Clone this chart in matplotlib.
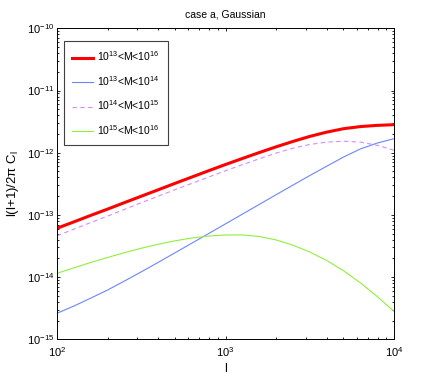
import numpy as np
import matplotlib
matplotlib.use('Agg')
import matplotlib.pyplot as plt
from matplotlib.ticker import NullFormatter, LogLocator

# multipole l
ell = [100, 126, 158, 200, 251, 316, 398, 501, 631, 794, 1000,
       1259, 1585, 1995, 2512, 3162, 3981, 5012, 6310, 7943, 10000]

# l(l+1)/2pi C_l for each mass bin
cl_all = [6.10e-14, 7.73e-14, 9.79e-14, 1.242e-13, 1.574e-13, 1.995e-13, 2.53e-13,
          3.21e-13, 4.06e-13, 5.13e-13, 6.46e-13, 8.07e-13, 1.005e-12, 1.242e-12,
          1.517e-12, 1.828e-12, 2.14e-12, 2.43e-12, 2.63e-12, 2.75e-12, 2.82e-12]
cl_13_14 = [2.62e-15, 3.43e-15, 4.57e-15, 6.22e-15, 8.63e-15, 1.213e-14, 1.722e-14,
            2.455e-14, 3.51e-14, 5.01e-14, 7.18e-14, 1.028e-13, 1.472e-13, 2.11e-13,
            3.01e-13, 4.29e-13, 6.05e-13, 8.51e-13, 1.148e-12, 1.429e-12, 1.679e-12]
cl_14_15 = [4.62e-14, 5.90e-14, 7.52e-14, 9.59e-14, 1.225e-13, 1.567e-13, 1.995e-13,
            2.54e-13, 3.21e-13, 4.06e-13, 5.13e-13, 6.41e-13, 7.98e-13, 9.86e-13,
            1.178e-12, 1.355e-12, 1.479e-12, 1.531e-12, 1.479e-12, 1.318e-12, 1.096e-12]
cl_15_16 = [1.151e-14, 1.409e-14, 1.714e-14, 2.07e-14, 2.47e-14, 2.91e-14, 3.37e-14,
            3.83e-14, 4.25e-14, 4.57e-14, 4.75e-14, 4.76e-14, 4.50e-14, 3.96e-14,
            3.26e-14, 2.53e-14, 1.854e-14, 1.268e-14, 8.09e-15, 4.88e-15, 2.81e-15]

labels = [r'$10^{13}$<M<$10^{16}$', r'$10^{13}$<M<$10^{14}$',
          r'$10^{14}$<M<$10^{15}$', r'$10^{15}$<M<$10^{16}$']

xticks = [1e2, 1e3, 1e4]
yticks = [1e-15, 1e-14, 1e-13, 1e-12, 1e-11, 1e-10]

plt.rcParams['font.family'] = ['Liberation Sans', 'DejaVu Sans']
plt.rcParams['mathtext.fontset'] = 'custom'
plt.rcParams['mathtext.rm'] = 'Liberation Sans'
plt.rcParams['mathtext.it'] = 'Liberation Sans'
plt.rcParams['mathtext.default'] = 'regular'

fig = plt.figure(figsize=(4.36, 3.82), dpi=100)
ax = fig.add_axes([57/436, 1-339.3/382, 337/436, 311/382])

ax.plot(ell, cl_all, color='#ff0000', lw=2.2, label=labels[0])
ax.plot(ell, cl_13_14, color='#6a86ff', lw=0.8, label=labels[1])
ax.plot(ell, cl_14_15, color='#d48cff', lw=0.8, dashes=(4, 3), label=labels[2])
ax.plot(ell, cl_15_16, color='#8ef03c', lw=0.8, label=labels[3])

ax.set_xscale('log')
ax.set_yscale('log')
ax.set_xticks(xticks)
ax.set_yticks(yticks)
ax.xaxis.set_minor_locator(LogLocator(base=10, subs=np.arange(2, 10)))
ax.yaxis.set_minor_locator(LogLocator(base=10, subs=np.arange(2, 10)))
ax.xaxis.set_minor_formatter(NullFormatter())
ax.yaxis.set_minor_formatter(NullFormatter())
ax.set_xlim(1e2, 1e4)
ax.set_ylim(1e-15, 1e-10)

ax.tick_params(which='both', direction='in', top=True, right=True, labelsize=8, width=0.6)
ax.tick_params(which='major', length=2.2, pad=2)
ax.tick_params(axis='x', which='major', pad=4)
ax.tick_params(which='minor', length=1.3)
for s in ax.spines.values():
    s.set_linewidth(0.7)

ax.set_title('case a, Gaussian', fontsize=7.5, pad=8)
ax.set_xlabel('l', fontsize=9, labelpad=3)
ax.set_ylabel(r'l(l+1)/2$\pi$ C$_l$', fontsize=9.5, labelpad=4)

leg = ax.legend(loc='upper left', bbox_to_anchor=(0.021, 0.959), fontsize=7.5,
                handlelength=2.0, handletextpad=0.4, labelspacing=1.03,
                borderpad=0.8, fancybox=False, framealpha=1, borderaxespad=0)
leg.get_frame().set_edgecolor('#404040')
leg.get_frame().set_linewidth(0.8)

fig.savefig('out.png', dpi=100)
